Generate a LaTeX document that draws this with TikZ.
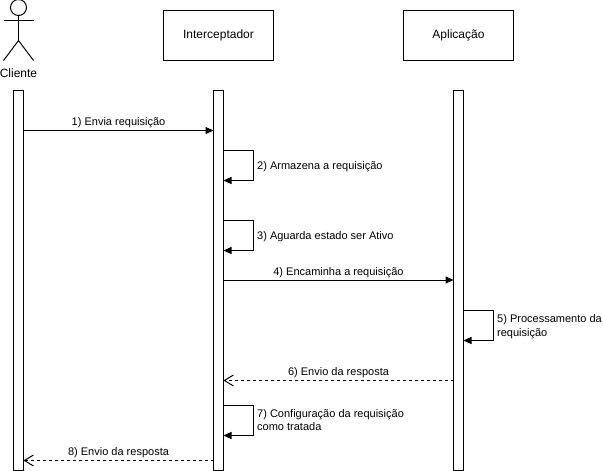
\documentclass[tikz,border=0pt]{standalone}
\usepackage{fontspec}
\setmainfont{Liberation Sans}
\usetikzlibrary{arrows.meta}
\tikzset{
  headbox/.style={draw=black,line width=1pt,minimum width=110pt,minimum height=50pt,inner sep=0pt,font=\fontsize{12}{14}\selectfont},
  lifebar/.style={draw=black,fill=white,line width=1pt,minimum width=10pt,minimum height=379.5pt,inner sep=0pt,outer sep=0pt},
  lbl/.style={inner sep=0pt,font=\fontsize{11}{13.5}\selectfont,text=black},
  leftlbl/.style={lbl,anchor=west,align=left},
  sync/.style={draw=black,line width=1pt,-{Triangle[length=8pt,width=7pt]}},
  reply/.style={draw=black,line width=1pt,dash pattern=on 3pt off 3pt,-{Straight Barb[length=9pt,width=11pt,line width=1pt]}},
  limb/.style={draw=black,line width=1pt}
}
\begin{document}
\begin{tikzpicture}[x=1pt,y=-1pt]
\useasboundingbox (0,0) rectangle (603,471);
\fill[white] (0,0) rectangle (603,471);
% headers
\node[headbox] (hint) at (218.5,35.5) {Interceptador};
\node[headbox] (happ) at (458.5,35.5) {Aplicação};
% actor
\coordinate (neck) at (18.5,15.5);
\coordinate (hip) at (18.5,40.5);
\coordinate (armL) at (3.5,20.5);
\coordinate (armR) at (33.5,20.5);
\coordinate (legL) at (3.5,60.5);
\coordinate (legR) at (33.5,60.5);
\draw[limb] (18.5,7.5) circle[radius=8pt];
\draw[limb] (neck) -- (hip);
\draw[limb] (armL) -- (armR);
\draw[limb] (legL) -- (hip) -- (legR);
\node[lbl,font=\fontsize{12}{14}\selectfont] (cliente) at (18.5,73.5) {Cliente};
% lifelines
\node[lifebar] (bc) at (18.5,280.25) {};
\node[lifebar] (bi) at (218.5,280.25) {};
\node[lifebar] (ba) at (458.5,280.25) {};
% 1
\draw[sync] (bc.east |- 0,130.5) -- node[lbl,pos=0.5,yshift=8pt] (l1) {1) Envia requisição} (bi.west |- 0,130.5);
% 2
\draw[sync] (bi.east |- 0,150.5) -- ++(30,0) -- ++(0,30) -- (bi.east |- 0,180.5);
\node[leftlbl] (l2) at (257,166.5) {2) Armazena a requisição};
% 3
\draw[sync] (bi.east |- 0,220.5) -- ++(30,0) -- ++(0,30) -- (bi.east |- 0,250.5);
\node[leftlbl] (l3) at (257,236.5) {3) Aguarda estado ser Ativo};
% 4
\draw[sync] (bi.east |- 0,280) -- node[lbl,pos=0.5,yshift=7.5pt] (l4) {4) Encaminha a requisição} (ba.west |- 0,280);
% 5
\draw[sync] (ba.east |- 0,310.5) -- ++(30,0) -- ++(0,30) -- (ba.east |- 0,340.5);
\node[leftlbl] (l5) at (497,326.5) {5) Processamento da\\requisição};
% 6
\draw[reply] (ba.west |- 0,380.5) -- node[lbl,pos=0.5,yshift=8pt] (l6) {6) Envio da resposta} (bi.east |- 0,380.5);
% 7
\draw[sync] (bi.east |- 0,405.5) -- ++(30,0) -- ++(0,30) -- (bi.east |- 0,435.5);
\node[leftlbl] (l7) at (257,420) {7) Configuração da requisição\\como tratada};
% 8
\draw[reply] (bi.west |- 0,460.5) -- node[lbl,pos=0.5,yshift=8pt] (l8) {8) Envio da resposta} (bc.east |- 0,460.5);
\end{tikzpicture}
\end{document}
